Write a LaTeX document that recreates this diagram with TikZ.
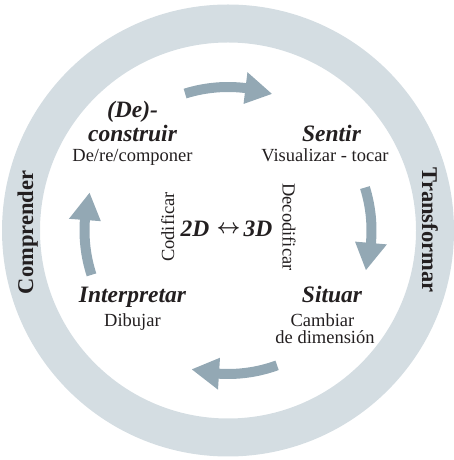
\documentclass[tikz,border=0pt]{standalone}
\usepackage{fontspec}
\setmainfont{Liberation Serif}
\usetikzlibrary{calc}
\definecolor{ringgray}{HTML}{D4DDE2}
\definecolor{arrowblue}{HTML}{93A8B4}
\definecolor{inkdark}{HTML}{231F20}
% curved cycle arrow around the centre C: #1 tail angle, #2 head base angle, #3 tip angle
\newcommand\cyclearrow[3]{%
  \draw[arrowblue, line width=10pt] ($(C)+(#1:143.5)$) arc[start angle=#1, end angle={#2-0.7}, radius=143.5];
  \fill[arrowblue] ($(C)+(#2:127.5)$) -- ($(C)+(#3:143.5)$) -- ($(C)+(#2:159.5)$) -- cycle;}
\begin{document}
\begin{tikzpicture}[x=1pt, y=1pt,
  every node/.style={inner sep=0pt, text=inkdark},
  heading/.style={anchor=base, font=\fontsize{23.5}{28}\selectfont\bfseries\itshape},
  subtext/.style={anchor=base, font=\fontsize{18.5}{22}\selectfont},
  ringlabel/.style={anchor=base, font=\fontsize{22.5}{26}\selectfont\bfseries},
  codelabel/.style={anchor=base, font=\fontsize{18.5}{22}\selectfont},
  linkarrow/.style={font=\fontsize{20}{24}\selectfont\boldmath}]
\useasboundingbox (0,0) rectangle (454,460);
\coordinate (C) at (228,229.5);
% outer ring
\fill[ringgray, even odd rule] (C) circle[radius=226] (C) circle[radius=188];
% cycle arrows
\cyclearrow{107.4}{83}{72.2}
\cyclearrow{17.4}{-5}{-16}
\cyclearrow{-70}{-93.6}{-104.6}
\cyclearrow{198}{175.8}{164.8}
% ring labels
\node[ringlabel, rotate=90] (comprender) at (33,227.5) {Comprender};
\node[ringlabel, rotate=-90] (transformar) at (422,230) {Transformar};
% stages
\node[heading] (decon1) at (132.5,342) {(De)-};
\node[heading] (decon2) at (132.5,318.3) {construir};
\node[subtext] (decon3) at (132.5,298) {De/re/componer};
\node[heading] (sentir) at (331.5,318.3) {Sentir};
\node[subtext] (sentirsub) at (325,298) {Visualizar - tocar};
\node[heading] (interp) at (132.5,157) {Interpretar};
\node[subtext] (interpsub) at (132.5,133.3) {Dibujar};
\node[heading] (situar) at (332,157) {Situar};
\node[subtext] (situarsub1) at (322.5,133.3) {Cambiar};
\node[subtext] (situarsub2) at (325,116) {de dimensión};
% centre
\node[heading] (twoD) at (195,223.3) {2D};
\node[heading] (threeD) at (258,223.3) {3D};
\node[linkarrow] (dimarrow) at (228.5,231) {$\leftrightarrow$};
\node[codelabel, rotate=90] (codif) at (174,233) {Codificar};
\node[codelabel, rotate=-90] (decodif) at (282.5,233) {Decodificar};
\end{tikzpicture}
\end{document}
